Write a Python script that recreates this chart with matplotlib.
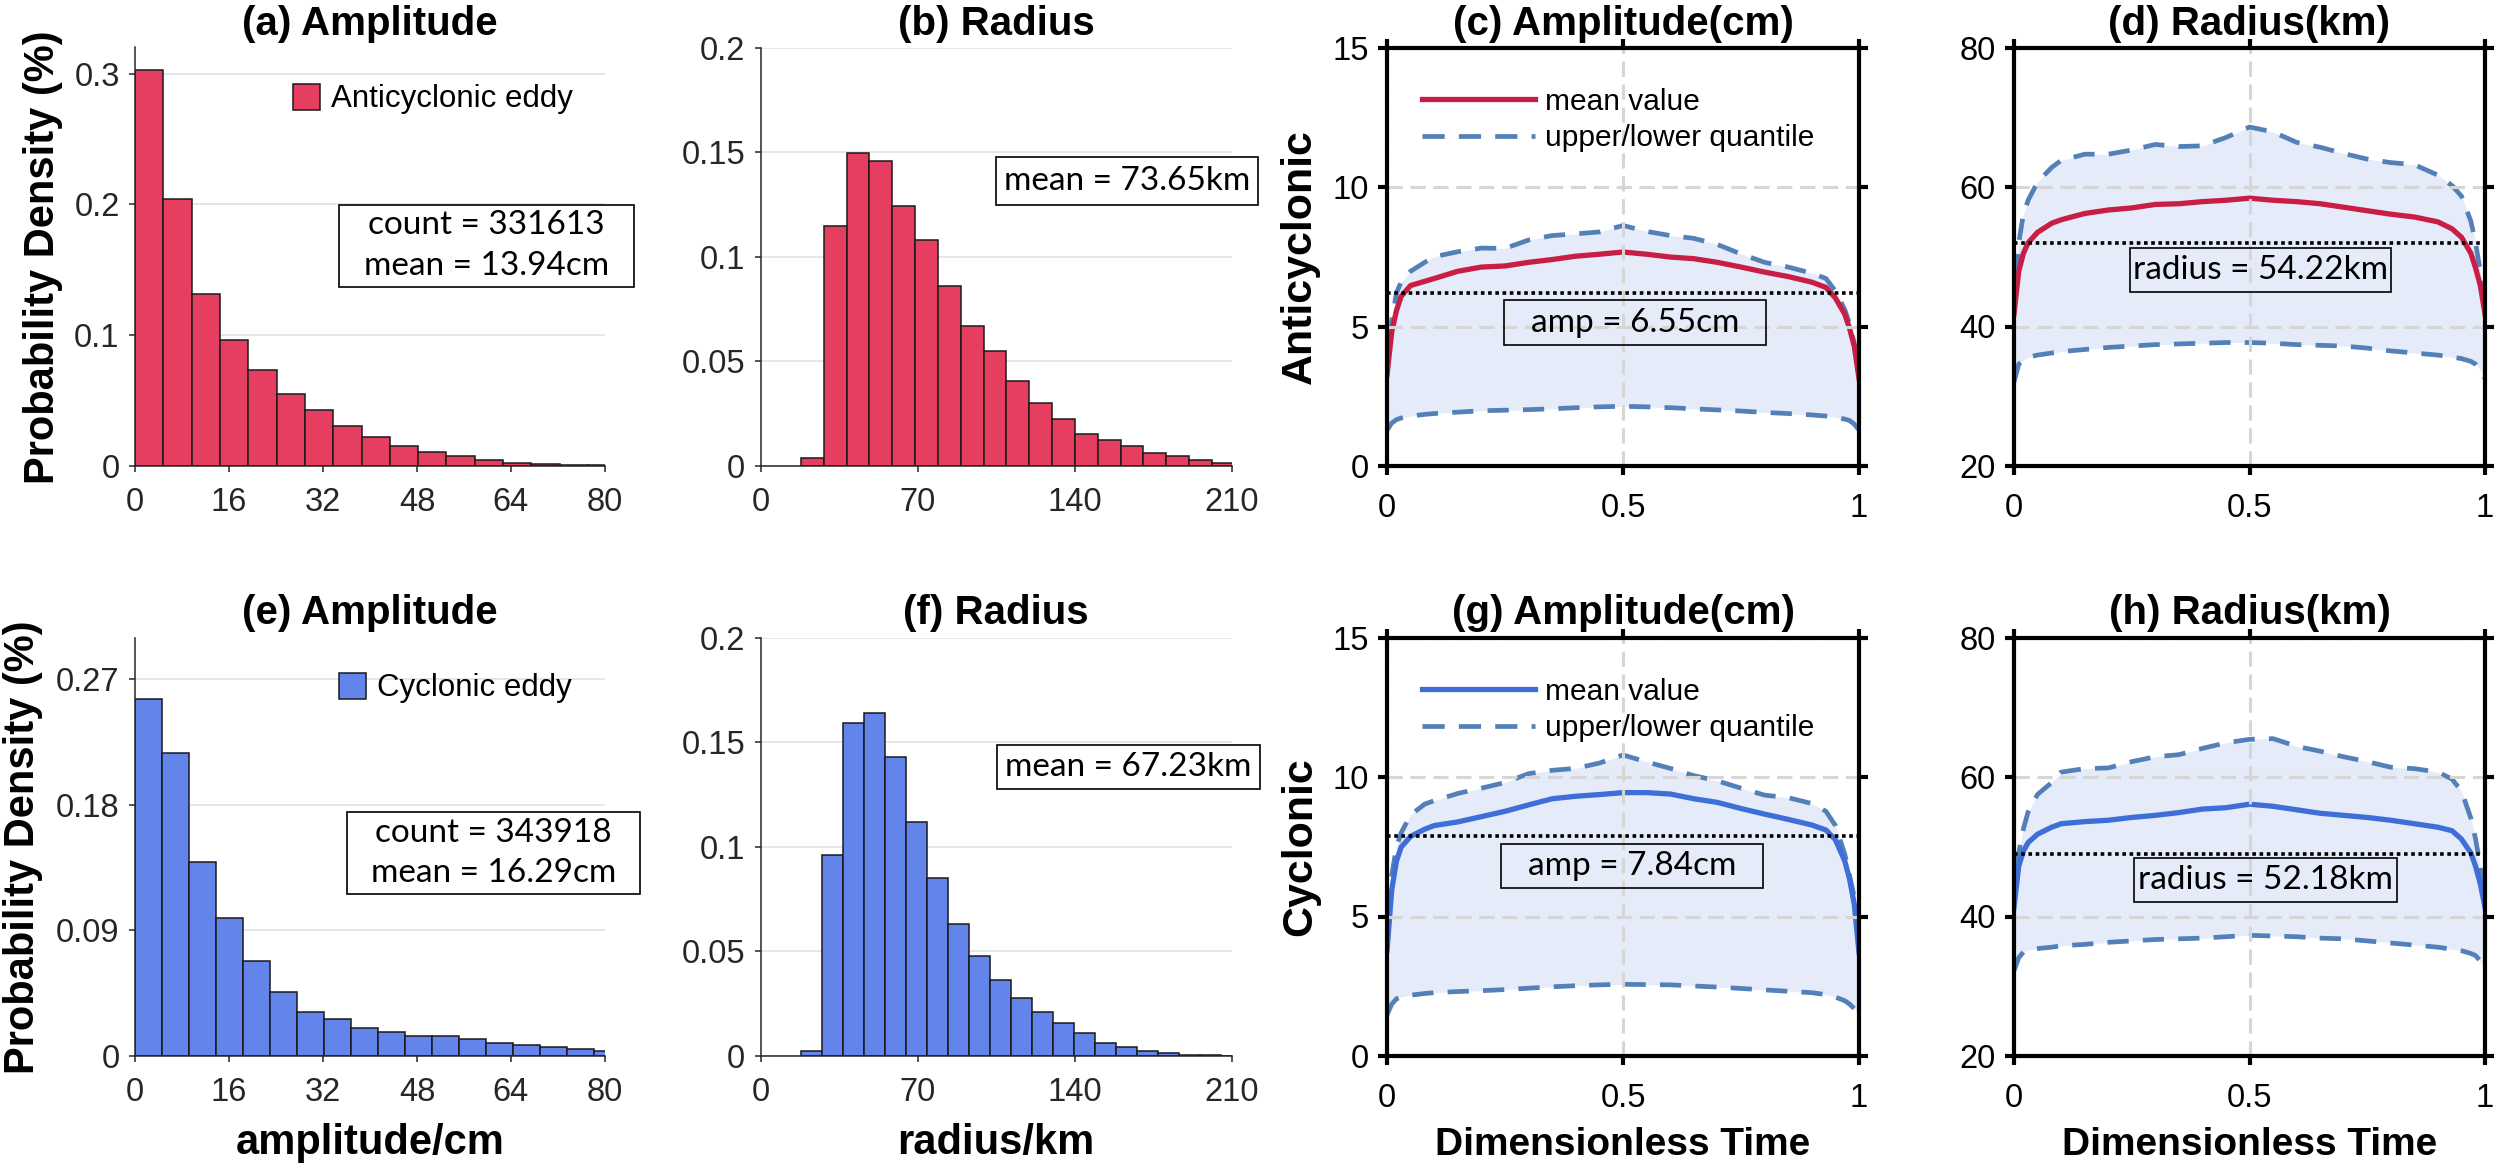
import matplotlib
matplotlib.use('Agg')
import matplotlib.pyplot as plt
from matplotlib.patches import Rectangle, Patch
from matplotlib.lines import Line2D
import numpy as np

plt.rcParams['font.family'] = ['Liberation Sans', 'DejaVu Sans']
BOX_FONT = ['Lato', 'DejaVu Sans']

# ---------------- data ----------------
# histograms: first bin edge, bin width, density per bin
ac_amp_start, ac_amp_width = 0.0, 4.82
ac_amp_density = [0.3027, 0.204, 0.1317, 0.096, 0.0736, 0.0554, 0.0431, 0.0303, 0.0221,
                  0.015, 0.0106, 0.0074, 0.0049, 0.0025, 0.0016, 0.0008, 0.0005]
ac_rad_start, ac_rad_width = 18.0, 10.17
ac_rad_density = [0.0038, 0.1147, 0.1497, 0.1456, 0.1242, 0.108, 0.0858, 0.0667, 0.055,
                  0.0404, 0.0302, 0.0227, 0.0154, 0.0125, 0.0097, 0.0063, 0.0046, 0.0029, 0.0015]
cy_amp_start, cy_amp_width = 0.0, 4.6
cy_amp_density = [0.256, 0.217, 0.139, 0.099, 0.068, 0.0458, 0.0313, 0.0266, 0.0198,
                  0.0173, 0.0145, 0.014, 0.0123, 0.0095, 0.0078, 0.0061, 0.0053, 0.0036]
cy_rad_start, cy_rad_width = 17.9, 9.37
cy_rad_density = [0.0022, 0.096, 0.159, 0.164, 0.1427, 0.1119, 0.0853, 0.0629, 0.0476,
                  0.0364, 0.0278, 0.0209, 0.0159, 0.0112, 0.0063, 0.0043, 0.0024, 0.0015,
                  0.0007, 0.0004, 0.0002]

ac_count, ac_amp_mean, ac_rad_mean = 331613, 13.94, 73.65
cy_count, cy_amp_mean, cy_rad_mean = 343918, 16.29, 67.23

# life cycle curves (dimensionless time)
t = [0, 0.01, 0.02, 0.03, 0.05, 0.08, 0.1, 0.15, 0.2, 0.25, 0.3, 0.35, 0.4, 0.45, 0.5,
     0.55, 0.6, 0.65, 0.7, 0.75, 0.8, 0.85, 0.9, 0.93, 0.95, 0.97, 0.98, 0.99, 1.0]

ac_amp_mean_t = [3.26, 4.8, 5.57, 6.08, 6.47, 6.62, 6.72, 6.98, 7.13, 7.17, 7.3, 7.4, 7.52, 7.59, 7.67,
                 7.59, 7.49, 7.43, 7.3, 7.13, 6.95, 6.79, 6.59, 6.4, 6.02, 5.44, 4.93, 4.29, 3.14]
ac_amp_upper = [3.3, 5.2, 6.2, 6.6, 6.98, 7.3, 7.5, 7.68, 7.81, 7.8, 8.1, 8.26, 8.32, 8.39, 8.62,
                8.41, 8.26, 8.16, 7.94, 7.6, 7.3, 7.13, 6.91, 6.72, 6.27, 5.6, 5.1, 4.4, 3.3]
ac_amp_lower = [1.28, 1.54, 1.66, 1.72, 1.79, 1.85, 1.88, 1.93, 1.98, 2.0, 2.02, 2.05, 2.09, 2.12, 2.14,
                2.12, 2.09, 2.05, 2.01, 1.97, 1.92, 1.88, 1.83, 1.79, 1.75, 1.68, 1.63, 1.5, 1.28]

ac_rad_mean_t = [41.8, 47.9, 50.5, 52.0, 53.5, 54.8, 55.3, 56.2, 56.7, 57.0, 57.5, 57.6, 57.9, 58.1, 58.4,
                 58.1, 57.9, 57.6, 57.1, 56.6, 56.1, 55.7, 55.0, 54.0, 52.8, 50.5, 48.4, 45.9, 41.8]
ac_rad_upper = [42.3, 52.0, 56.1, 58.1, 60.7, 62.8, 63.8, 64.7, 64.7, 65.3, 66.1, 65.8, 65.9, 67.1, 68.6,
                67.9, 66.4, 65.7, 64.8, 64.0, 63.5, 63.2, 61.7, 60.2, 58.7, 55.1, 52.0, 47.9, 42.3]
ac_rad_lower = [32.0, 34.6, 35.2, 35.6, 35.9, 36.2, 36.4, 36.7, 37.0, 37.2, 37.4, 37.5, 37.6, 37.7, 37.7,
                37.6, 37.4, 37.3, 37.2, 36.9, 36.5, 36.2, 35.9, 35.6, 35.4, 35.0, 34.6, 33.8, 32.5]

cy_amp_mean_t = [3.78, 5.95, 6.98, 7.49, 7.87, 8.13, 8.26, 8.39, 8.58, 8.77, 9.0, 9.22, 9.31, 9.37, 9.44,
                 9.44, 9.39, 9.22, 9.09, 8.87, 8.67, 8.48, 8.28, 8.1, 7.75, 6.98, 6.34, 5.44, 3.71]
cy_amp_upper = [3.9, 6.47, 7.49, 8.0, 8.64, 9.03, 9.15, 9.41, 9.6, 9.8, 10.12, 10.24, 10.31, 10.5, 10.79,
                10.54, 10.31, 10.05, 9.86, 9.6, 9.35, 9.26, 9.05, 8.77, 8.26, 7.23, 6.47, 5.7, 3.9]
cy_amp_lower = [1.47, 1.86, 2.05, 2.12, 2.18, 2.24, 2.27, 2.31, 2.34, 2.38, 2.43, 2.48, 2.52, 2.55, 2.57,
                2.56, 2.55, 2.51, 2.47, 2.42, 2.37, 2.32, 2.27, 2.2, 2.11, 1.98, 1.86, 1.7, 1.47]

cy_rad_mean_t = [41.3, 47.2, 49.4, 50.6, 51.8, 52.8, 53.3, 53.6, 53.8, 54.2, 54.5, 54.9, 55.4, 55.6, 56.1,
                 55.8, 55.3, 54.8, 54.5, 54.2, 53.8, 53.3, 52.8, 52.3, 51.1, 49.1, 47.2, 44.7, 41.3]
cy_rad_upper = [42.2, 49.1, 52.6, 55.0, 57.5, 59.2, 60.7, 61.2, 61.3, 62.2, 62.9, 63.2, 64.1, 64.9, 65.4,
                65.5, 64.4, 63.7, 62.9, 62.2, 61.4, 61.2, 60.7, 59.7, 58.0, 54.1, 51.1, 47.2, 42.2]
cy_rad_lower = [32.2, 34.1, 34.9, 35.2, 35.4, 35.6, 35.8, 36.0, 36.3, 36.5, 36.7, 36.8, 36.9, 37.1, 37.3,
                37.2, 37.1, 36.9, 36.8, 36.5, 36.2, 35.9, 35.6, 35.3, 35.1, 34.7, 34.4, 33.6, 32.2]

# dotted reference levels and their labels
ac_amp_level, ac_amp_label = 6.2, 'amp = 6.55cm'
ac_rad_level, ac_rad_label = 51.9, 'radius = 54.22km'
cy_amp_level, cy_amp_label = 7.87, 'amp = 7.84cm'
cy_rad_level, cy_rad_label = 48.9, 'radius = 52.18km'

# ---------------- styles ----------------
red_bar, blue_bar = '#E63E61', '#6284EB'
red_line, blue_line = '#C81E46', '#3E6ED7'
quant_c, fill_c = '#5480B8', '#E5EBF8'
dash = (0, (4.5, 3.0))
TICK_FS = 23.5

W, H = 2500, 1171
fig = plt.figure(figsize=(25, 11.71), dpi=100)

col_px = [(135, 605), (760.6, 1232), (1387, 1859), (2014, 2485)]
row_px = [(47.5, 466), (637.5, 1056)]


def rect(x0, y0, x1, y1):
    return [x0 / W, 1 - y1 / H, (x1 - x0) / W, (y1 - y0) / H]


def fx(x):
    return x / W


def fy(y):
    return 1 - y / H


def add_box(x0, y0, x1, y1, face):
    fig.add_artist(Rectangle((fx(x0), fy(y1)), (x1 - x0) / W, (y1 - y0) / H,
                             transform=fig.transFigure, facecolor=face,
                             edgecolor='black', linewidth=1.2, zorder=6))


def hist_panel(ax, start, width, dens, color, xlim, xticks, ylim, yticks, ylabels):
    edges = start + width * np.arange(len(dens))
    ax.bar(edges, dens, width=width, align='edge', color=color,
           edgecolor='#1a1a1a', linewidth=1.1, zorder=2)
    ax.set_xlim(*xlim)
    ax.set_ylim(*ylim)
    ax.set_xticks(xticks)
    ax.set_yticks(yticks)
    ax.set_yticklabels(ylabels)
    for s in ['top', 'right']:
        ax.spines[s].set_visible(False)
    for s in ['left', 'bottom']:
        ax.spines[s].set_color('#262626')
        ax.spines[s].set_linewidth(1.1)
    ax.yaxis.grid(True, color='#e6e6e6', lw=1.4)
    ax.set_axisbelow(True)
    ax.tick_params(direction='out', length=4, width=1.1, color='#262626',
                   labelsize=TICK_FS, labelcolor='#262626')
    ax.tick_params(axis='x', pad=11)
    ax.tick_params(axis='y', pad=7)


def line_panel(ax, mean, upper, lower, level, color, ylim, yticks):
    ax.fill_between(t, lower, upper, color=fill_c, lw=0, zorder=1)
    ax.plot(t, upper, color=quant_c, lw=3.4, ls=dash, zorder=2)
    ax.plot(t, lower, color=quant_c, lw=3.4, ls=dash, zorder=2)
    ax.plot(t, mean, color=color, lw=3.8, zorder=2.2)
    ax.axhline(level, color='black', lw=2.6, ls=(0, (1, 1.0)), zorder=2.3)
    ax.set_xlim(0, 1)
    ax.set_ylim(*ylim)
    ax.set_xticks([0, 0.5, 1])
    ax.set_xticklabels(['0', '0.5', '1'])
    ax.set_yticks(yticks)
    ax.grid(True, color='#d6d6d6', lw=2.2, ls=(0, (5, 2.5)))
    ax.set_axisbelow(False)
    for s in ax.spines.values():
        s.set_linewidth(3.0)
        s.set_zorder(3)
    ax.tick_params(direction='out', top=True, right=True, length=6.5, width=3.0,
                   labelsize=TICK_FS)
    ax.tick_params(axis='x', pad=13)
    ax.tick_params(axis='y', pad=6.5)


rows = [
    dict(amp=(ac_amp_start, ac_amp_width, ac_amp_density), rad=(ac_rad_start, ac_rad_width, ac_rad_density),
         bar=red_bar, line=red_line, legend='Anticyclonic eddy', count=ac_count,
         amp_mean=ac_amp_mean, rad_mean=ac_rad_mean,
         amp_ylim=(0, 0.32), amp_yticks=[0, 0.1, 0.2, 0.3], amp_ylabels=['0', '0.1', '0.2', '0.3'],
         curves_amp=(ac_amp_mean_t, ac_amp_upper, ac_amp_lower, ac_amp_level, ac_amp_label),
         curves_rad=(ac_rad_mean_t, ac_rad_upper, ac_rad_lower, ac_rad_level, ac_rad_label),
         side='Anticyclonic', letters='abcd'),
    dict(amp=(cy_amp_start, cy_amp_width, cy_amp_density), rad=(cy_rad_start, cy_rad_width, cy_rad_density),
         bar=blue_bar, line=blue_line, legend='Cyclonic eddy', count=cy_count,
         amp_mean=cy_amp_mean, rad_mean=cy_rad_mean,
         amp_ylim=(0, 0.30), amp_yticks=[0, 0.09, 0.18, 0.27], amp_ylabels=['0', '0.09', '0.18', '0.27'],
         curves_amp=(cy_amp_mean_t, cy_amp_upper, cy_amp_lower, cy_amp_level, cy_amp_label),
         curves_rad=(cy_rad_mean_t, cy_rad_upper, cy_rad_lower, cy_rad_level, cy_rad_label),
         side='Cyclonic', letters='efgh'),
]

# annotation boxes in image pixels (x0, y0, x1, y1)
count_boxes = [(339, 205, 634, 287), (347, 812, 640, 894)]
mean_boxes = [(996, 157, 1258, 205), (997, 745, 1260, 789)]
amp_boxes = [(1504, 300, 1766, 345), (1501, 844, 1763, 888)]
rad_boxes = [(2130, 248, 2391, 292), (2134, 858, 2397, 902)]
title_y = [24, 613]
hist_leg_y = [(293, 99), (339, 688)]
line_leg_y = [120, 710]
ylab_x = [43.5, 23]

for r, d in enumerate(rows):
    y0, y1 = row_px[r]
    axes = [fig.add_axes(rect(cx0, y0, cx1, y1)) for cx0, cx1 in col_px]
    a1, a2, a3, a4 = axes

    hist_panel(a1, *d['amp'], d['bar'], (0, 80), [0, 16, 32, 48, 64, 80],
               d['amp_ylim'], d['amp_yticks'], d['amp_ylabels'])
    hist_panel(a2, *d['rad'], d['bar'], (0, 210), [0, 70, 140, 210],
               (0, 0.2), [0, 0.05, 0.1, 0.15, 0.2], ['0', '0.05', '0.1', '0.15', '0.2'])

    lx, ly = hist_leg_y[r]
    a1.legend(handles=[Patch(facecolor=d['bar'], edgecolor='#1a1a1a', linewidth=1.1)],
              labels=[d['legend']], loc='center left', bbox_to_anchor=(fx(lx), fy(ly)),
              bbox_transform=fig.transFigure, frameon=False, fontsize=22.5,
              handlelength=0.86, handleheight=0.9, handletextpad=0.35,
              borderpad=0, borderaxespad=0)

    m, u, lo, lev, lab = d['curves_amp']
    line_panel(a3, m, u, lo, lev, d['line'], (0, 15), [0, 5, 10, 15])
    m2, u2, lo2, lev2, lab2 = d['curves_rad']
    line_panel(a4, m2, u2, lo2, lev2, d['line'], (20, 80), [20, 40, 60, 80])

    handles = [Line2D([], [], color=d['line'], lw=3.8),
               Line2D([], [], color=quant_c, lw=3.4, ls=(0, (4.7, 3.0)))]
    a3.legend(handles, ['mean value', 'upper/lower quantile'], loc='center left',
              bbox_to_anchor=(fx(1422), fy(line_leg_y[r])), bbox_transform=fig.transFigure,
              frameon=False, fontsize=21.5, handlelength=3.8, handletextpad=0.33,
              labelspacing=0.3, borderpad=0, borderaxespad=0)

    # titles
    names = ['Amplitude', 'Radius', 'Amplitude(cm)', 'Radius(km)']
    for (cx0, cx1), letter, name in zip(col_px, d['letters'], names):
        fig.text(fx((cx0 + cx1) / 2), fy(title_y[r]), f'({letter}) {name}',
                 ha='center', va='center', fontsize=29, fontweight='bold')

    # y labels
    fig.text(fx(ylab_x[r]), fy((y0 + y1) / 2), 'Probability Density (%)', rotation=90,
             ha='center', va='center', fontsize=30, fontweight='bold')
    fig.text(fx(1300), fy((y0 + y1) / 2), d['side'], rotation=90,
             ha='center', va='center', fontsize=31, fontweight='bold')

    # text boxes
    bx = count_boxes[r]
    add_box(*bx, 'white')
    cxm = (bx[0] + bx[2]) / 2
    hgt = bx[3] - bx[1]
    fig.text(fx(cxm), fy(bx[1] + 0.25 * hgt), f"count = {d['count']}", ha='center', va='center',
             fontsize=24, family=BOX_FONT, zorder=7)
    fig.text(fx(cxm), fy(bx[1] + 0.74 * hgt), f"mean = {d['amp_mean']:.2f}cm", ha='center', va='center',
             fontsize=24, family=BOX_FONT, zorder=7)

    for bx, txt, face in [(mean_boxes[r], f"mean = {d['rad_mean']:.2f}km", 'white'),
                          (amp_boxes[r], lab, 'none'), (rad_boxes[r], lab2, 'none')]:
        add_box(*bx, face)
        fig.text(fx((bx[0] + bx[2]) / 2), fy((bx[1] + bx[3]) / 2), txt, ha='center', va='center',
                 fontsize=24, family=BOX_FONT, zorder=7)

# x labels (bottom row only)
fig.text(fx(370), fy(1143), 'amplitude/cm', ha='center', va='center', fontsize=30, fontweight='bold')
fig.text(fx(996), fy(1143), 'radius/km', ha='center', va='center', fontsize=30, fontweight='bold')
for cx0, cx1 in col_px[2:]:
    fig.text(fx((cx0 + cx1) / 2), fy(1145), 'Dimensionless Time', ha='center', va='center',
             fontsize=28, fontweight='bold')

fig.savefig('out.png', dpi=100)
